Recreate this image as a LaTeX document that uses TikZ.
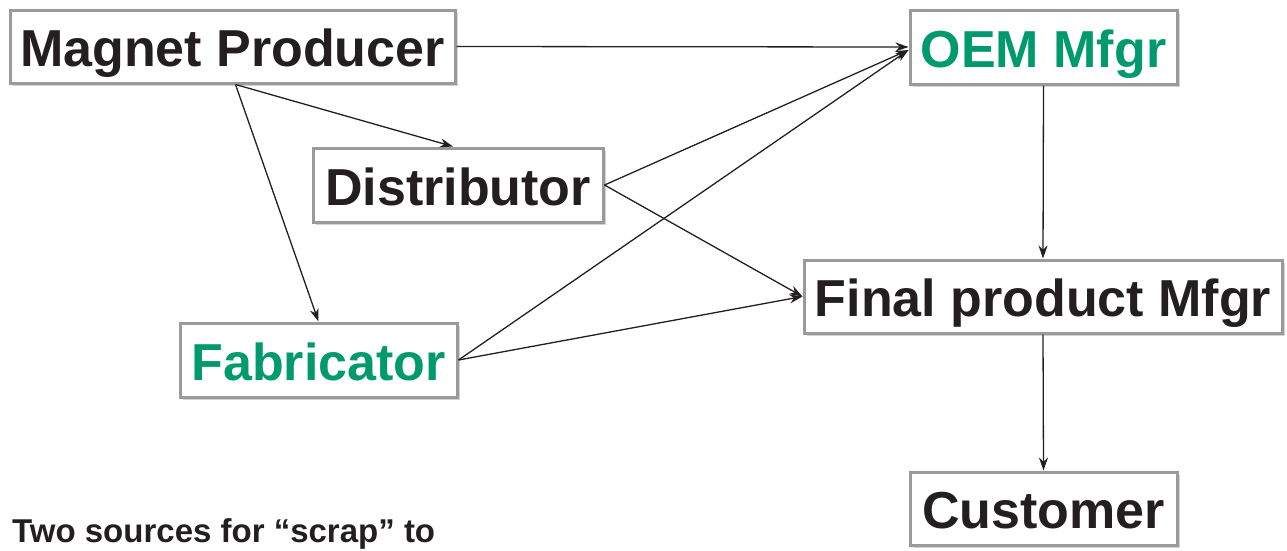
\documentclass[tikz,border=0pt]{standalone}
\usepackage{fontspec}
\setmainfont{Liberation Sans}
\usetikzlibrary{arrows.meta,shadows}
\definecolor{mgreen}{HTML}{009A6E}
\definecolor{mblack}{HTML}{231F20}
\definecolor{mgray}{HTML}{9A9A9A}
\begin{document}
\begin{tikzpicture}[x=1pt,y=-1pt,
  box/.style = {draw=mgray, line width=3pt, fill=white, inner sep=0pt, text=mblack,
    text height=40pt, text depth=0pt, font=\fontsize{52}{56}\selectfont\bfseries,
    drop shadow={shadow xshift=3pt, shadow yshift=-3pt, opacity=0.35}},
  flow/.style = {line width=1.3pt, mblack, -{Stealth[length=13pt,width=9pt]}}]
\useasboundingbox (0,0) rectangle (1287,550); \clip (0,0) rectangle (1287,550);
\node[box, minimum width=445pt, minimum height=73pt](mp) at (232.5,46.5) {Magnet Producer};
\node[box, minimum width=267pt, minimum height=74pt, text=mgreen](oem) at (1043.5,47) {OEM Mfgr};
\node[box, minimum width=290pt, minimum height=74pt](dist) at (458,185) {Distributor};
\node[box, minimum width=478pt, minimum height=73pt](fin) at (1043,296.5) {Final product Mfgr};
\node[box, minimum width=277pt, minimum height=74pt, text=mgreen](fab) at (318.5,360) {Fabricator};
\node[box, minimum width=267pt, minimum height=73pt](cust) at (1043.5,508.5) {Customer};
\node[anchor=base west, inner sep=0pt, text=mblack, font=\fontsize{33}{36}\selectfont\bfseries](note) at (12,542) {Two sources for “scrap” to};
\draw[flow] (mp.east) -- (oem.west);
\draw[flow] ([xshift=3pt]mp.south) -- ([xshift=-5pt]dist.north); \draw[flow] ([xshift=3pt]mp.south) -- (fab.north);
\draw[flow] (dist.east) -- ([yshift=-3pt]oem.west); \draw[flow] (dist.east) -- (fin.west);
\draw[flow] (fab.east) -- ([yshift=-3pt]oem.west); \draw[flow] (fab.east) -- (fin.west);
\draw[flow] (oem.south) -- (fin.north); \draw[flow] (fin.south) -- (cust.north);
\end{tikzpicture}
\end{document}
